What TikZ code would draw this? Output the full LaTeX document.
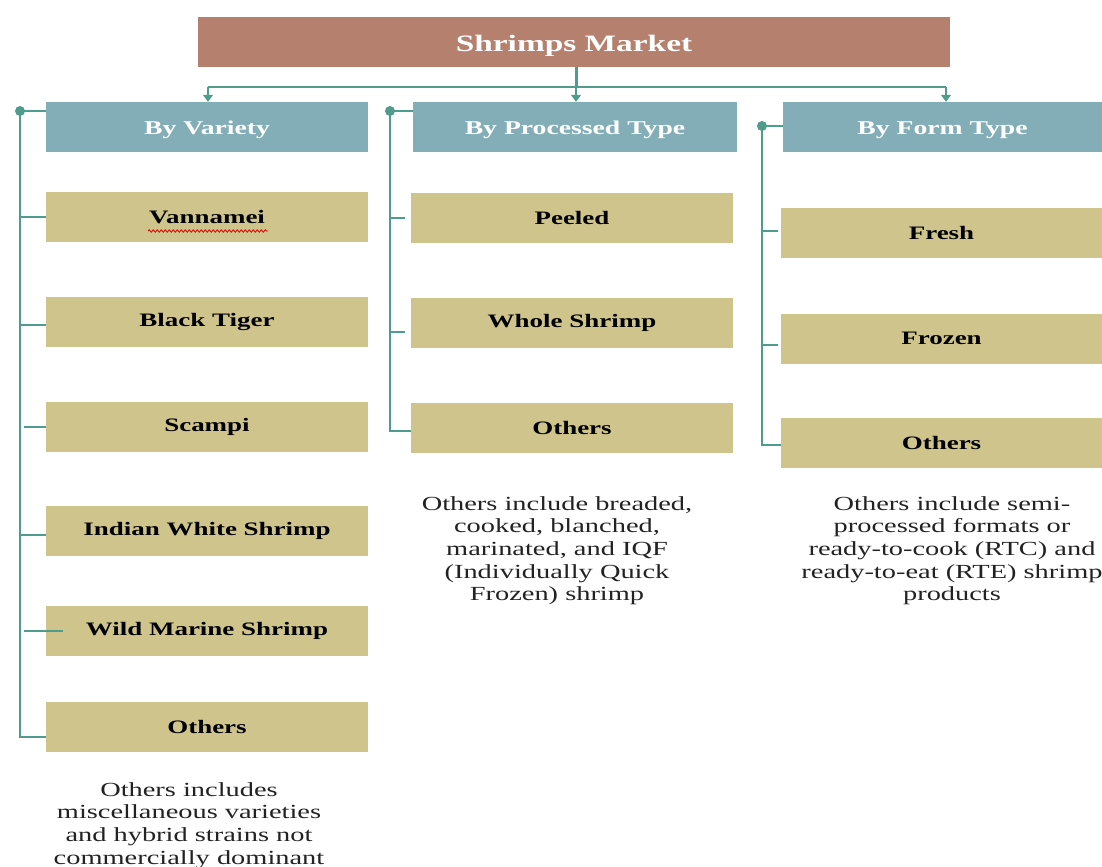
\documentclass[tikz,border=0pt]{standalone}
\usepackage{fontspec}
\setmainfont[FakeStretch=1.42]{Liberation Serif}
\usetikzlibrary{arrows.meta,calc,decorations.pathmorphing}

\definecolor{marketc}{HTML}{B5806E}
\definecolor{headc}{HTML}{84AEB7}
\definecolor{itemc}{HTML}{CFC58C}
\definecolor{linec}{HTML}{4F9B8C}
\definecolor{notec}{HTML}{222222}

\newcommand{\titlefont}{\fontsize{23.5bp}{28bp}\selectfont\bfseries}
\newcommand{\hdfont}{\fontsize{19.5bp}{23bp}\selectfont\bfseries}
\newcommand{\itfont}{\fontsize{19bp}{23bp}\selectfont\bfseries}
\newcommand{\ntfont}{\fontsize{20bp}{22.7bp}\selectfont}

\tikzset{
  market/.style={fill=marketc, minimum width=752bp, minimum height=50bp,
    inner sep=0pt, text=white, font=\titlefont,
    text height=24bp, text depth=5bp},
  header/.style={fill=headc, minimum height=50bp, inner sep=0pt,
    text=white, font=\hdfont, text height=19.5bp, text depth=4.3bp},
  item/.style={fill=itemc, minimum width=322bp, minimum height=50bp,
    inner sep=0pt, text=black, font=\itfont},
  note/.style={align=center, inner sep=0pt, text=notec, font=\ntfont},
  conn/.style={draw=linec, line width=1.5bp},
  bus/.style={draw=linec, line width=3bp},
  arr/.style={conn, -{Triangle[width=10bp,length=7bp]}},
  dot/.style={circle, fill=linec, inner sep=0pt, minimum size=10bp},
  squiggle/.style={draw=red!85!black, line width=0.8bp, decorate,
    decoration={snake, amplitude=1.2bp, segment length=4bp}},
}

\begin{document}
\begin{tikzpicture}[x=1bp,y=-1bp]
\useasboundingbox (0,0) rectangle (1102,867);

% root and category headers
\node[market] (top) at (574,42) {Shrimps Market};
\node[header, minimum width=322bp] (hv) at (207,127) {By Variety};
\node[header, minimum width=324bp] (hp) at (575,127) {By Processed Type};
\node[header, minimum width=319bp] (hf) at (942.5,127) {By Form Type};

% variety items
\node[item] (v1) at (207,217)   {Vannamei};
\node[item] (v2) at (207,322)   {Black Tiger};
\node[item] (v3) at (207,426.5) {Scampi};
\node[item] (v4) at (207,531)   {Indian White Shrimp};
\node[item] (v5) at (207,631)   {Wild Marine Shrimp};
\node[item] (v6) at (207,727)   {Others};

% processed-type items
\node[item] (p1) at (572,218)   {Peeled};
\node[item] (p2) at (572,323)   {Whole Shrimp};
\node[item] (p3) at (572,427.5) {Others};

% form-type items
\node[item, minimum width=321bp] (f1) at (941.5,233)   {Fresh};
\node[item, minimum width=321bp] (f2) at (941.5,338.5) {Frozen};
\node[item, minimum width=321bp] (f3) at (941.5,443)   {Others};

% spell-check squiggle under Vannamei
\draw[squiggle] (148,231) -- (268,231);

% root to headers
\coordinate (busc) at (576,87);
\draw[bus] (top.south -| busc) -- (busc);
\draw[conn] (208,87) -- (946,87);
\draw[arr] (208,87) -- (hv.north -| 208,0);
\draw[arr] (busc) -- (hp.north -| busc);
\draw[arr] (946,87) -- (hf.north -| 946,0);

% variety tree
\node[dot] (d1) at (20,111) {};
\draw[conn] (d1.center) -- (d1 -| hv.west);
\draw[conn] (d1.center) -- (20,737) -- ($(v6.west)+(0,10)$);
\draw[conn] (20,217) -- (v1.west);
\draw[conn] (20,325) -- (v2.west |- 0,325);
\draw[conn] (24,427) -- (v3.west |- 0,427);
\draw[conn] (20,535) -- (v4.west |- 0,535);
\draw[conn] (24,631) -- (63,631);

% processed-type tree
\node[dot] (d2) at (390,111) {};
\draw[conn] (d2.center) -- (d2 -| hp.west);
\draw[conn] (d2.center) -- (390,431) -- (p3.west |- 0,431);
\draw[conn] (390,218) -- ($(p1.west)+(-6,0)$);
\draw[conn] (390,332) -- (405,332);

% form-type tree
\node[dot] (d3) at (762,126) {};
\draw[conn] (d3.center) -- (d3 -| hf.west);
\draw[conn] (d3.center) -- (762,445) -- (f3.west |- 0,445);
\draw[conn] (762,231) -- (778,231);
\draw[conn] (762,345) -- (778,345);

% explanatory notes
\node[note, anchor=north] (n1) at (189,782)
  {Others includes\\miscellaneous varieties\\and hybrid strains not\\commercially dominant};
\node[note, anchor=north] (n2) at (557,496)
  {Others include breaded,\\cooked, blanched,\\marinated, and IQF\\(Individually Quick\\Frozen) shrimp};
\node[note, anchor=north] (n3) at (952,496)
  {Others include semi-\\processed formats or\\ready-to-cook (RTC) and\\ready-to-eat (RTE) shrimp\\products};
\end{tikzpicture}
\end{document}
